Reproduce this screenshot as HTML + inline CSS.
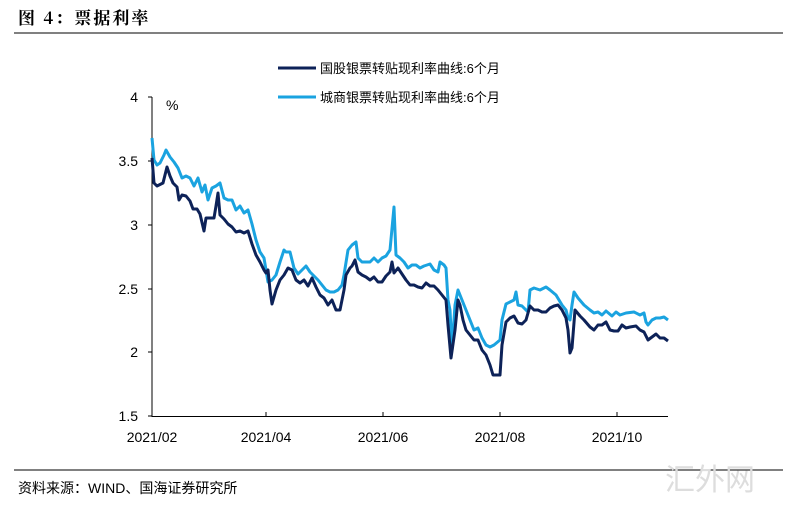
<!DOCTYPE html>
<html><head><meta charset="utf-8"><style>
body{margin:0;background:#fff;width:793px;height:508px;overflow:hidden;font-family:"Liberation Sans","Noto Sans CJK SC",sans-serif;}
</style></head><body>
<svg width="793" height="508" xmlns="http://www.w3.org/2000/svg" font-family="Liberation Sans, Noto Sans CJK SC, sans-serif">
<text x="18" y="24" font-size="17" font-weight="bold" letter-spacing="2" font-family="Noto Serif CJK SC, serif">图 4：票据利率</text>
<line x1="14" y1="33" x2="783" y2="33" stroke="#000" stroke-width="1"/>
<line x1="14" y1="470" x2="783" y2="470" stroke="#000" stroke-width="1"/>
<text x="18" y="493" font-size="14">资料来源：WIND、国海证券研究所</text>
<text x="665" y="490" font-size="30" fill="#ddd">汇外网</text>
<!-- legend -->
<line x1="278" y1="68" x2="316" y2="68" stroke="#0d2258" stroke-width="3"/>
<text x="320" y="73" font-size="13">国股银票转贴现利率曲线:6个月</text>
<line x1="278" y1="97" x2="316" y2="97" stroke="#1aa3e0" stroke-width="3"/>
<text x="320" y="102" font-size="13">城商银票转贴现利率曲线:6个月</text>
<!-- axes -->
<line x1="152" y1="97" x2="152" y2="417" stroke="#000"/>
<line x1="152" y1="416.5" x2="668" y2="416.5" stroke="#000"/>
<g stroke="#000">
<line x1="148" y1="97" x2="152" y2="97"/><line x1="148" y1="161" x2="152" y2="161"/><line x1="148" y1="225" x2="152" y2="225"/><line x1="148" y1="289" x2="152" y2="289"/><line x1="148" y1="352" x2="152" y2="352"/><line x1="148" y1="416" x2="152" y2="416"/>
<line x1="266" y1="412" x2="266" y2="416"/><line x1="383" y1="412" x2="383" y2="416"/><line x1="500" y1="412" x2="500" y2="416"/><line x1="617" y1="412" x2="617" y2="416"/>
</g>
<g font-size="14" text-anchor="end">
<text x="138" y="102">4</text><text x="138" y="166">3.5</text><text x="138" y="230">3</text><text x="138" y="294">2.5</text><text x="138" y="357">2</text><text x="138" y="421">1.5</text>
</g>
<text x="166" y="110" font-size="14">%</text>
<g font-size="14" text-anchor="middle">
<text x="152" y="442">2021/02</text><text x="266" y="442">2021/04</text><text x="383" y="442">2021/06</text><text x="500" y="442">2021/08</text><text x="617" y="442">2021/10</text>
</g>
<polyline fill="none" stroke="#1aa3e0" stroke-width="3" stroke-linejoin="round" points="152,138 154,160 157,165 160,163 164,155 166,150 170,157 174,162 178,168 182,178 186,176 190,178 194,186 198,178 202,192 205,185 208,200 212,188 216,186 220,183 224,198 228,200 232,200 236,210 240,206 244,213 248,210 252,224 256,240 260,252 264,258 268,282 272,280 276,275 280,262 284,250 286,252 290,252 294,268 298,274 302,270 306,266 310,272 314,276 318,280 322,285 326,290 330,292 334,292 338,290 342,285 344,275 348,250 352,245 356,242 358,258 362,262 366,262 370,262 374,258 378,262 382,258 386,256 390,250 394,207 396,255 400,258 404,262 408,268 412,265 416,265 420,268 424,266 430,264 434,270 438,272 440,262 444,265 446,268 448,300 450,310 452,350 455,305 458,290 462,300 466,310 470,320 474,330 478,328 482,338 486,345 490,347 494,345 500,340 502,320 506,304 510,302 514,300 516,292 518,305 522,306 528,312 530,290 534,288 540,290 546,287 550,290 556,295 562,305 566,310 568,318 570,320 572,305 574,292 578,298 584,305 590,310 594,313 598,312 602,315 606,311 612,316 616,312 620,315 626,313 634,312 640,315 644,313 646,322 648,325 652,320 656,318 660,318 664,317 668,320"/>
<polyline fill="none" stroke="#0d2258" stroke-width="3" stroke-linejoin="round" points="152,158 154,183 157,186 163,183 167,167 170,176 173,183 177,187 179,200 182,195 186,196 190,201 193,209 197,209 200,214 204,231 206,218 211,218 214,218 216,206 218,193 220,215 224,219 228,224 232,227 236,232 240,231 244,233 248,231 252,244 256,255 260,262 264,270 266,273 268,270 270,290 272,304 276,290 280,280 284,275 288,268 292,270 296,280 300,283 304,280 308,286 312,278 316,287 320,295 324,298 328,305 332,300 336,310 340,310 344,290 346,275 350,268 352,266 355,260 358,272 362,275 366,277 370,280 374,277 378,282 382,282 386,276 390,272 392,262 394,273 398,268 402,274 406,280 410,285 414,285 418,287 422,288 426,283 430,286 434,286 438,290 442,295 446,300 448,325 451,358 455,330 458,300 460,305 463,320 466,330 470,335 474,340 478,340 482,350 486,355 490,365 493,375 500,375 502,345 506,322 510,318 514,316 518,323 522,324 526,320 530,306 534,310 538,310 542,312 546,312 550,308 554,306 558,305 562,310 566,318 568,330 570,353 572,348 575,310 580,316 584,320 590,327 594,330 598,325 602,325 606,322 610,330 614,331 618,331 622,325 626,328 630,327 636,326 640,330 644,332 648,340 652,337 656,334 660,338 664,338 668,341"/>
</svg>
</body></html>
